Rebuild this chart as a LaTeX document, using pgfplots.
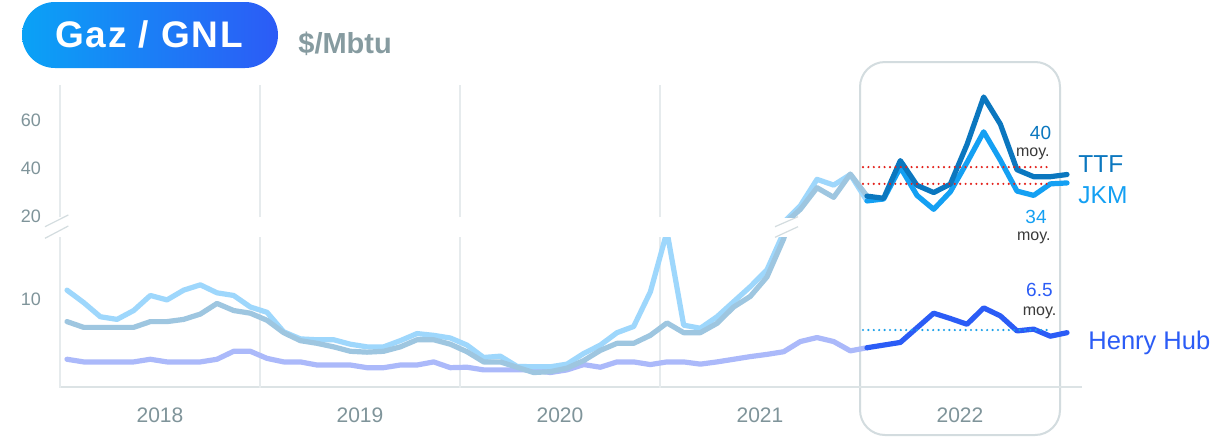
\documentclass[border=0pt]{standalone}
\usepackage{pgfplots}
\pgfplotsset{compat=1.18}
\usepackage{pgfplotstable}
\usepackage{fontspec}
\setmainfont{Liberation Sans}
\newfontfamily\titlefont[LetterSpace=5]{Liberation Sans}

\definecolor{ttfpale}{HTML}{9EC6E0}
\definecolor{jkmpale}{HTML}{9ED7FC}
\definecolor{hhpale}{HTML}{ABB9FA}
\definecolor{ttf}{HTML}{0B77BF}
\definecolor{jkm}{HTML}{14A0F3}
\definecolor{hh}{HTML}{2B5CF6}
\definecolor{gridc}{HTML}{E6EBED}
\definecolor{basec}{HTML}{DCE3E5}
\definecolor{framec}{HTML}{D3DCDF}
\definecolor{labc}{HTML}{7F949A}
\definecolor{unitc}{HTML}{869BA0}
\definecolor{avgred}{HTML}{E3211B}
\definecolor{avgblue}{HTML}{1BA0EA}
\definecolor{pillL}{HTML}{0AA2F6}
\definecolor{pillR}{HTML}{2C5BF6}
\definecolor{moyc}{HTML}{3A3A3A}

% monthly averages, $/Mbtu, m = 0 is Jan 2018
\pgfplotstableread{
m ttf jkm hh
0 7.45 11.0 3.2
1 6.8 9.6 2.9
2 6.8 8.0 2.9
3 6.8 7.7 2.9
4 6.8 8.7 2.9
5 7.45 10.4 3.2
6 7.45 9.9 2.9
7 7.7 11.0 2.9
8 8.3 11.6 2.9
9 9.5 10.7 3.2
10 8.7 10.4 4.1
11 8.4 9.1 4.1
12 7.6 8.5 3.3
13 6.2 6.3 2.9
14 5.3 5.5 2.9
15 5.0 5.4 2.55
16 4.6 5.4 2.55
17 4.1 4.9 2.55
18 4.0 4.6 2.25
19 4.1 4.6 2.25
20 4.6 5.3 2.55
21 5.4 6.1 2.55
22 5.4 5.9 2.9
23 4.9 5.6 2.25
24 4.05 4.8 2.3
25 2.9 3.4 2.0
26 2.9 3.55 2.0
27 2.3 2.4 2.0
28 1.7 2.35 2.0
29 1.8 2.35 1.7
30 2.2 2.65 2.0
31 3.05 3.85 2.6
32 4.2 4.8 2.3
33 5.0 6.2 2.9
34 5.0 6.9 2.9
35 5.9 10.8 2.6
36 7.3 17.6 2.9
37 6.2 7.05 2.9
38 6.2 6.7 2.65
39 7.25 8.0 2.9
40 9.1 9.7 3.2
41 10.3 11.4 3.5
42 12.5 13.3 3.75
43 16.8 17.5 4.05
44 23.0 24.5 5.2
45 32.0 35.5 5.65
46 28.0 33.1 5.2
47 37.7 37.5 4.15
48 28.5 26.5 4.5
49 27.6 27.3 4.8
50 43.3 40.5 5.1
51 33.0 28.8 6.75
52 30.0 23.0 8.4
53 33.5 30.3 7.8
54 50.0 42.5 7.15
55 69.8 55.3 9.0
56 58.5 43.5 8.1
57 39.5 30.6 6.4
58 36.6 28.8 6.6
59 36.6 33.6 5.8
60 37.5 34.0 6.2
}\gas

\pgfplotsset{
  gasbase/.style={
    scale only axis, width=510.5pt, xmin=-0.48, xmax=60.78,
    axis line style={draw=none}, major tick length=0pt,
    extra x ticks={-0.42,11.58,23.58,35.58}, extra x tick labels={},
    extra x tick style={grid=major, major grid style={gridc, line width=1pt}},
    yticklabel style={font=\fontsize{9}{10}\selectfont, text=labc, xshift=-5.5pt},
    /pgf/number format/assume math mode=true,
  },
  pale/.style={line width=2.6pt, line cap=round, line join=round, restrict x to domain=0:48.1},
  dark/.style={line width=2.6pt, line cap=round, line join=round, restrict x to domain=47.9:60},
  avg/.style={line width=1.2pt, line cap=round, dash pattern=on 0pt off 2.7pt},
}

\begin{document}
\begin{tikzpicture}
\fill[white] (0,0) rectangle (613pt,218pt);
\path[use as bounding box] (0,0) rectangle (613pt,218pt);

% pixel frame: (x,y) measured from the top left corner
\begin{scope}[x=0.5pt, y=-0.5pt, yshift=218pt]
  \draw[framec, line width=1pt, rounded corners=12.5pt] (860,62) rectangle (1060,435);
  \draw[basec, line width=1pt] (59,387.3) -- (1082,387.3);
  \draw[framec, line width=0.6pt] (45,226.7) -- (68.3,215) (45,238.3) -- (68.3,226);
  \draw[framec, line width=0.6pt] (775,226.7) -- (798,216.7) (775,237.3) -- (798,226.7);
  \shade[left color=pillL, right color=pillR, rounded corners=16.5pt] (22,2) rectangle (278,68);
  \node[anchor=base, inner sep=0, text=white, font=\titlefont\bfseries\fontsize{18.5}{20}\selectfont] at (149,47.3) {Gaz / GNL};
  \node[anchor=base west, inner sep=0, text=unitc, font=\bfseries\fontsize{14.5}{16}\selectfont] at (298,53) {\$/Mbtu};
\end{scope}

% lower part of the broken scale
\begin{axis}[gasbase, at={(29.5pt,24.2pt)}, anchor=south west, height=75.3pt,
  ymin=0, ymax=17, ytick={10},
  xtick={5.58,17.58,29.58,41.58,53.58}, xticklabels={2018,2019,2020,2021,2022},
  xticklabel style={font=\fontsize{10.5}{12}\selectfont, text=labc, yshift=-6.5pt}]
\addplot[pale, hhpale] table[x=m, y=hh] {\gas};
\addplot[pale, jkmpale] table[x=m, y=jkm] {\gas};
\addplot[pale, ttfpale] table[x=m, y=ttf] {\gas};
\addplot[dark, hh] table[x=m, y=hh] {\gas};
\addplot[dark, jkm] table[x=m, y=jkm] {\gas};
\addplot[dark, ttf] table[x=m, y=ttf] {\gas};
\addplot[avg, avgblue] coordinates {(47.76,6.5) (59.1,6.5)};
\end{axis}

% upper part of the broken scale
\begin{axis}[gasbase, at={(29.5pt,109.5pt)}, anchor=south west, height=66pt,
  ymin=19.8, ymax=74.8, ytick={20,40,60}, xtick=\empty]
\addplot[pale, jkmpale] table[x=m, y=jkm] {\gas};
\addplot[pale, ttfpale] table[x=m, y=ttf] {\gas};
\addplot[dark, jkm] table[x=m, y=jkm] {\gas};
\addplot[dark, ttf] table[x=m, y=ttf] {\gas};
\addplot[avg, avgred] coordinates {(47.76,40.6) (59.1,40.6)};
\addplot[avg, avgred] coordinates {(47.76,33.6) (59.1,33.6)};
\end{axis}

\begin{scope}[x=0.5pt, y=-0.5pt, yshift=218pt]
  \node[anchor=base west, inner sep=0, text=ttf, font=\fontsize{12.25}{14}\selectfont] at (1078,172.7) {TTF};
  \node[anchor=base west, inner sep=0, text=jkm, font=\fontsize{12.25}{14}\selectfont] at (1078,203.3) {JKM};
  \node[anchor=base west, inner sep=0, text=hh, font=\fontsize{12.75}{14}\selectfont] at (1088,349.3) {Henry Hub};
  \node[anchor=base east, inner sep=0, text=ttf, font=\fontsize{9.5}{11}\selectfont] at (1051.5,139) {40};
  \node[anchor=base east, inner sep=0, text=moyc, font=\fontsize{8}{9}\selectfont] at (1050,156) {moy.};
  \node[anchor=base east, inner sep=0, text=jkm, font=\fontsize{9.5}{11}\selectfont] at (1047,223.3) {34};
  \node[anchor=base east, inner sep=0, text=moyc, font=\fontsize{8}{9}\selectfont] at (1051,240) {moy.};
  \node[anchor=base east, inner sep=0, text=hh, font=\fontsize{9.5}{11}\selectfont] at (1053,296.7) {6.5};
  \node[anchor=base east, inner sep=0, text=moyc, font=\fontsize{8}{9}\selectfont] at (1056.7,315) {moy.};
\end{scope}
\end{tikzpicture}
\end{document}
